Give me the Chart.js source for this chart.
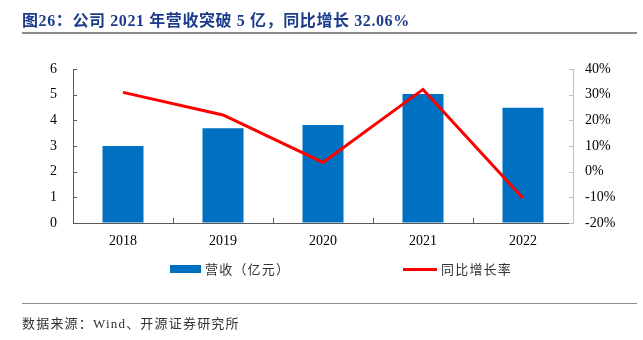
<!DOCTYPE html>
<html><head><meta charset="utf-8">
<script src="https://cdn.jsdelivr.net/npm/chart.js@4/dist/chart.umd.min.js"></script>
<style>
html,body{margin:0;padding:0;background:#fff;}
#wrap{position:relative;width:643px;height:340px;overflow:hidden;}
canvas{position:absolute;left:0;top:0;}
.t{position:absolute;white-space:nowrap;}
#title{left:22px;top:7px;font:bold 16px "Liberation Serif","Noto Sans CJK SC",serif;letter-spacing:0.6px;color:#1c3b8c;}
#tline{position:absolute;left:22px;top:32px;width:615px;height:2px;background:#8c8c8c;}
#sline{position:absolute;left:22px;top:303px;width:615px;height:1px;background:#8c8c8c;}
#src{left:22px;top:313px;font:13px "Liberation Serif","Noto Sans CJK SC",serif;letter-spacing:1.2px;color:#333;}
.lg{position:absolute;font:13px "Liberation Serif","Noto Sans CJK SC",serif;letter-spacing:1.2px;color:#333;white-space:nowrap;}
</style></head>
<body><div id="wrap">
<canvas id="c" width="643" height="340"></canvas>
<div id="title" class="t">图26：公司 2021 年营收突破 5 亿，同比增长 32.06%</div>
<div id="tline"></div>
<div id="legend"></div>
<div id="sline"></div>
<div id="src" class="t">数据来源：Wind、开源证券研究所</div>
</div>
<script>
const categories = ['2018','2019','2020','2021','2022'];
const revenue = [3.0, 3.69, 3.82, 5.03, 4.49];
const growth = [30.9, 22.1, 3.6, 32.06, -10.4];
const revenueLabel = '营收（亿元）';
const growthLabel = '同比增长率';
const leftTicks = [0,1,2,3,4,5,6];
const rightTicks = [-20,-10,0,10,20,30,40];

const BLUE = '#0070C0', RED = '#FF0000';
const tickFont = {family:'"Liberation Serif", serif', size:14};

const inwardTicks = {
  id:'inwardTicks',
  afterDraw(chart){
    const ctx = chart.ctx, a = chart.chartArea;
    const y = chart.scales.y, y1 = chart.scales.y1, x = chart.scales.x;
    ctx.save();
    ctx.lineWidth = 1;
    ctx.strokeStyle = '#595959';
    y.ticks.forEach(t=>{const p=Math.round(y.getPixelForValue(t.value))+0.5;ctx.beginPath();ctx.moveTo(a.left,p);ctx.lineTo(a.left+4,p);ctx.stroke();});
    ctx.strokeStyle = '#bfbfbf';
    y1.ticks.forEach(t=>{const p=Math.round(y1.getPixelForValue(t.value))+0.5;ctx.beginPath();ctx.moveTo(a.right-4,p);ctx.lineTo(a.right,p);ctx.stroke();});
    ctx.strokeStyle = '#595959';
    for(let i=0;i<categories.length-1;i++){
      const p=Math.round((x.getPixelForValue(i)+x.getPixelForValue(i+1))/2)+0.5;
      ctx.beginPath();ctx.moveTo(p,a.bottom);ctx.lineTo(p,a.bottom-5);ctx.stroke();
    }
    ctx.restore();
  }
};

const chart = new Chart(document.getElementById('c'), {
  type:'bar',
  data:{labels:categories, datasets:[
    {type:'line', label:growthLabel, data:growth, yAxisID:'y1', borderColor:RED, backgroundColor:RED, borderWidth:3, pointRadius:0, tension:0, order:0},
    {type:'bar', label:revenueLabel, data:revenue, yAxisID:'y', backgroundColor:BLUE, borderWidth:0, barPercentage:0.41, categoryPercentage:1, order:1}
  ]},
  options:{
    responsive:false, animation:false,
    devicePixelRatio:1,
    layout:{padding:{left:0,right:0,top:69,bottom:87}},
    plugins:{legend:{display:false}, tooltip:{enabled:false}},
    scales:{
      x:{grid:{display:true,drawOnChartArea:false,drawTicks:false},border:{display:true,color:'#595959',width:1},
         ticks:{font:tickFont,color:'#000',padding:10},
         afterFit(s){s.height=30;}},
      y:{position:'left',min:0,max:6,afterBuildTicks(s){s.ticks=leftTicks.map(v=>({value:v}));},
         grid:{display:true,drawOnChartArea:false,drawTicks:false},border:{display:true,color:'#595959',width:1},
         ticks:{font:tickFont,color:'#000',padding:16},
         afterFit(s){s.width=73;}},
      y1:{position:'right',min:-20,max:40,afterBuildTicks(s){s.ticks=rightTicks.map(v=>({value:v}));},
         grid:{display:true,drawOnChartArea:false,drawTicks:false},border:{display:true,color:'#bfbfbf',width:1},
         ticks:{font:tickFont,color:'#000',padding:12,callback:v=>v+'%'},
         afterFit(s){s.width=70;}}
    }
  },
  plugins:[inwardTicks]
});

// HTML legend built from datasets
const lg = document.getElementById('legend');
const items = [
  {ds:chart.data.datasets[1], x:170, kind:'box'},
  {ds:chart.data.datasets[0], x:403, kind:'line'}
];
items.forEach(it=>{
  const m=document.createElement('div');
  m.style.position='absolute';m.style.left=it.x+'px';
  if(it.kind==='box'){m.style.top='265px';m.style.width='31px';m.style.height='8px';m.style.background=it.ds.backgroundColor;}
  else{m.style.top='268px';m.style.width='34px';m.style.height='3px';m.style.background=it.ds.borderColor;}
  lg.appendChild(m);
  const t=document.createElement('div');t.className='lg';t.textContent=it.ds.label;
  t.style.left=(it.x+(it.kind==='box'?35:38))+'px';t.style.top='259px';
  lg.appendChild(t);
});
</script>
</body></html>
